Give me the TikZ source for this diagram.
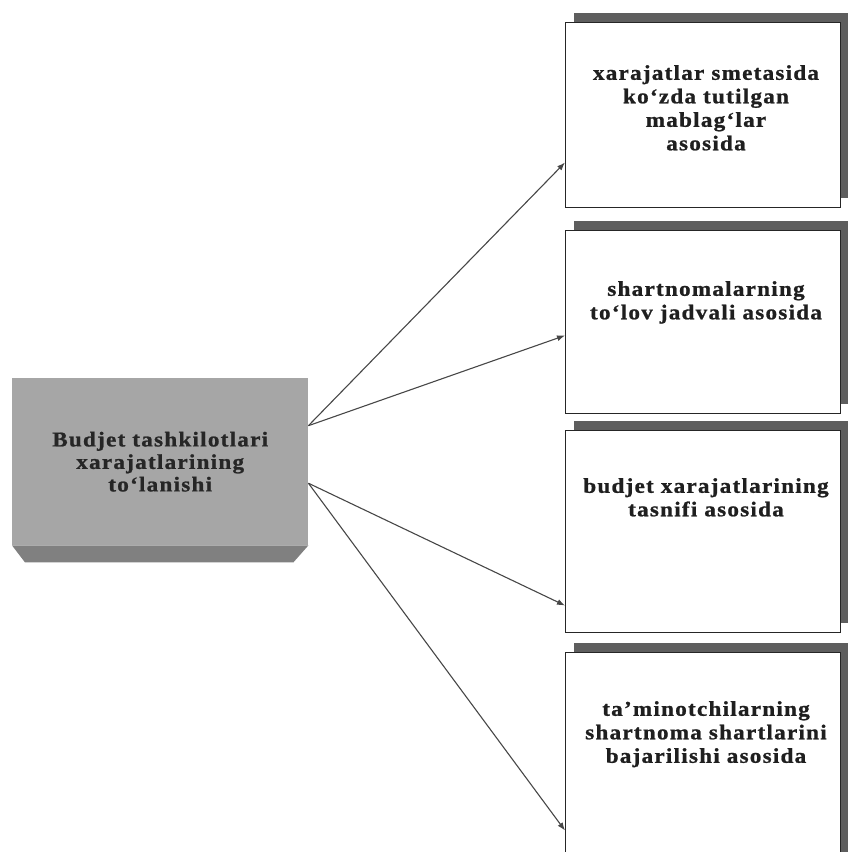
\documentclass[tikz,border=0pt]{standalone}
\usepackage{fontspec}
\setmainfont{Liberation Serif}
\newfontfamily\leaffont[LetterSpace=6,FakeStretch=1.1,FakeBold=1]{Liberation Serif}
\usetikzlibrary{positioning,arrows.meta,shadows}

\definecolor{facegray}{HTML}{A6A6A6}
\definecolor{bevelgray}{HTML}{808080}
\definecolor{shadegray}{HTML}{5E5E5E}

\tikzset{
  leaf/.style={draw=black!85, line width=1pt, fill=white, minimum width=275pt,
    anchor=north west, inner sep=0pt,
    general shadow={fill=shadegray, shadow xshift=8pt, shadow yshift=10pt}},
  leaftext/.style={font=\leaffont\bfseries\fontsize{21}{23.5}\selectfont,
    text=black!88, align=center, anchor=north, inner sep=0pt},
  link/.style={draw=black!72, line width=1.1pt, -{Latex[length=8pt,width=6pt]}},
}

\begin{document}
\begin{tikzpicture}[x=1pt,y=-1pt]
\useasboundingbox (0,0) rectangle (848,852);

% central box with bevel
\node[fill=facegray, minimum width=296pt, minimum height=167pt, anchor=north west,
  inner sep=0pt, font=\leaffont\bfseries\fontsize{21}{22.5}\selectfont,
  text=black!85, align=center] (payment) at (12,378)
  {Budjet tashkilotlari\\xarajatlarining\\to‘lanishi};
\fill[bevelgray] (payment.south west) -- (payment.south east)
  -- ([xshift=-15pt,yshift=-17pt]payment.south east)
  -- ([xshift=13pt,yshift=-17pt]payment.south west) -- cycle;

% right boxes
\node[leaf, minimum height=185pt] (smeta) at (565,22) {};
\node[leaf, minimum height=183pt] (jadval) at (565,230) {};
\node[leaf, minimum height=202pt] (tasnif) at (565,430) {};
\node[leaf, minimum height=215pt] (shart) at (565,652) {};

\node[leaftext] (smetatext) at ([xshift=3pt,yshift=-43pt]smeta.north)
  {xarajatlar smetasida\\ko‘zda tutilgan\\mablag‘lar\\asosida};
\node[leaftext] (jadvaltext) at ([xshift=3pt,yshift=-51pt]jadval.north)
  {shartnomalarning\\to‘lov jadvali asosida};
\node[leaftext] (tasniftext) at ([xshift=3pt,yshift=-48pt]tasnif.north)
  {budjet xarajatlarining\\tasnifi asosida};
\node[leaftext] (sharttext) at ([xshift=3pt,yshift=-49pt]shart.north)
  {ta’minotchilarning\\shartnoma shartlarini\\bajarilishi asosida};

% arrows
\draw[link] ([yshift=36pt]payment.east) -- ([yshift=-47.5pt]smeta.west);
\draw[link] ([yshift=36pt]payment.east) -- ([yshift=-13.5pt]jadval.west);
\draw[link] ([yshift=-21.5pt]payment.east) -- ([yshift=-74pt]tasnif.west);
\draw[link] ([yshift=-21.5pt]payment.east) -- ([yshift=-70.5pt]shart.west);
\end{tikzpicture}
\end{document}
